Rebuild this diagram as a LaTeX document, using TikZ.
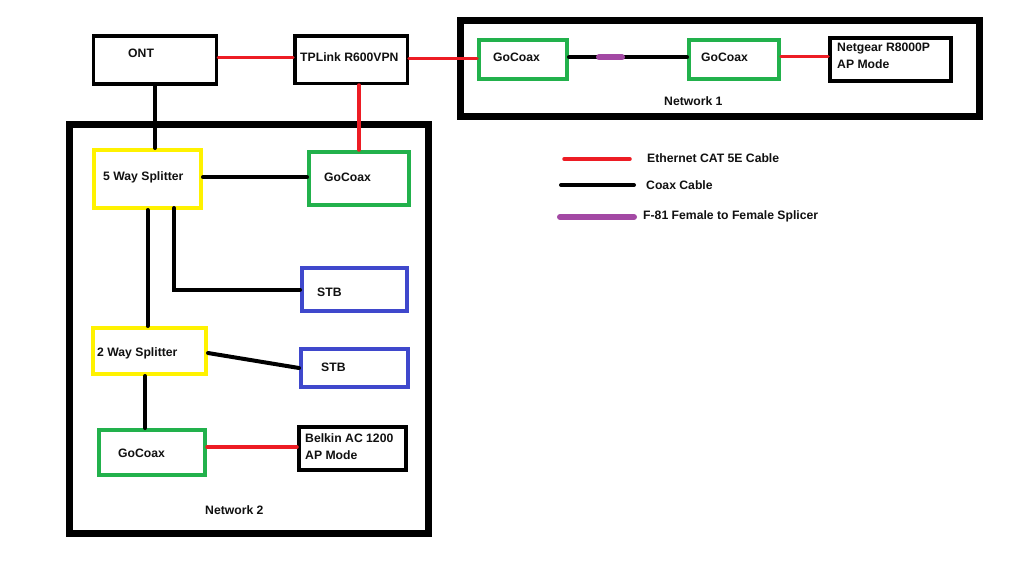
\documentclass[tikz,border=0pt]{standalone}
\usepackage{fontspec}
\setmainfont{Liberation Sans}
\usetikzlibrary{calc}
\definecolor{pred}{HTML}{ED1C24}
\definecolor{pgreen}{HTML}{22B14C}
\definecolor{pyellow}{HTML}{FFF200}
\definecolor{pblue}{HTML}{3F48CC}
\definecolor{ppurple}{HTML}{A349A4}
\definecolor{ptext}{HTML}{111111}
\begin{document}
\begin{tikzpicture}[x=1pt,y=-1pt,
  box/.style={draw,rectangle,inner sep=0pt,line width=#1},
  box/.default=4pt,
  lbl/.style={inner sep=0pt,anchor=base west,text=ptext,font=\bfseries\fontsize{12.2}{17}\selectfont},
  lbl2/.style={inner sep=0pt,anchor=north west,align=left,text=ptext,font=\bfseries\fontsize{12.2}{17}\selectfont},
  eth/.style={draw=pred,line width=3.5pt,line cap=round},
  coax/.style={draw=black,line width=4pt,line cap=round},
  splice/.style={draw=ppurple,line width=6pt,line cap=round}]
\useasboundingbox[fill=white] (0,0) rectangle (1024,576);

% big network frames
\node[box=7pt,minimum width=519pt,minimum height=96pt] (net1) at (720,68.3) {};
\node[box=7pt,minimum width=359pt,minimum height=408.5pt] (net2) at (249,328.75) {};

% devices
\node[box=3.5pt,minimum width=123pt,minimum height=48pt] (ont) at (155,60) {};
\node[box=3.5pt,minimum width=112.5pt,minimum height=47.5pt] (tp) at (351,59.5) {};
\node[box,draw=pgreen,minimum width=88pt,minimum height=38.7pt] (g1) at (523,59.3) {};
\node[box,draw=pgreen,minimum width=90pt,minimum height=39pt] (g2) at (734,59.5) {};
\node[box,minimum width=121pt,minimum height=42.7pt] (ng) at (890.5,59.3) {};
\node[box,draw=pyellow,minimum width=107pt,minimum height=58pt] (s5) at (147.5,179) {};
\node[box,draw=pgreen,minimum width=100pt,minimum height=53pt] (ga) at (359,178.5) {};
\node[box,draw=pblue,minimum width=105pt,minimum height=43pt] (stb1) at (354.5,289.5) {};
\node[box,draw=pyellow,minimum width=113pt,minimum height=46pt] (s2) at (149.5,351) {};
\node[box,draw=pblue,minimum width=107pt,minimum height=38pt] (stb2) at (354.5,368) {};
\node[box,draw=pgreen,minimum width=106pt,minimum height=45pt] (gb) at (152,452.5) {};
\node[box,minimum width=107pt,minimum height=43pt] (bk) at (352.5,448.5) {};

% labels
\node[lbl] (ont-t) at (128,57) {ONT};
\node[lbl] (tp-t) at (300,61.4) {TPLink R600VPN};
\node[lbl] (g1-t) at (493,61.4) {GoCoax};
\node[lbl] (g2-t) at (701,61.4) {GoCoax};
\node[lbl2] (ng-t) at (837,42.7) {Netgear R8000P\\AP Mode};
\node[lbl] (net1-t) at (664,105.1) {Network 1};
\node[lbl] (s5-t) at (103,180.4) {5 Way Splitter};
\node[lbl] (ga-t) at (324,181.4) {GoCoax};
\node[lbl] (stb1-t) at (317,296.4) {STB};
\node[lbl] (s2-t) at (97,356.4) {2 Way Splitter};
\node[lbl] (stb2-t) at (321,371.4) {STB};
\node[lbl] (gb-t) at (118,457.4) {GoCoax};
\node[lbl2] (bk-t) at (305,433.5) {Belkin AC 1200\\AP Mode};
\node[lbl] (net2-t) at (205,514.4) {Network 2};

% connectors
\draw[eth] ($(ont.east)+(0,-2.7)$) -- ($(tp.west)+(0,-2.2)$);
\draw[eth] ($(tp.east)+(0,-1.2)$) -- ($(g1.west)+(0,-1)$);
\draw[eth] (ga.north) -- (ga.north |- tp.south);
\draw[coax] (ont.south) -- (ont.south |- s5.north);
\draw[coax] ($(s5.east)+(0,-1.7)$) -- ($(ga.west)+(0,-1.2)$);
\draw[coax] (s5.south) -- (s5.south |- s2.north);
\coordinate (s5b) at ($(s5.south)+(26.5,-2)$);
\draw[coax] (s5b) |- (stb1.west);
\draw[coax] ($(s2.east)+(0,2)$) -- (stb2.west);
\coordinate (s2b) at ($(s2.south)+(-4.5,0)$);
\draw[coax] (s2b) -- (s2b |- gb.north);
\coordinate (gbr) at ($(gb.east)+(0,-5.5)$);
\draw[eth] (gbr) -- (gbr -| bk.west);
\draw[coax] ($(g1.east)+(0,-2)$) -- ($(g2.west)+(0,-2.2)$);
\coordinate (sp1) at (599,57.3);
\coordinate (sp2) at (622,57.3);
\draw[splice] (sp1) -- (sp2);
\draw[eth] ($(g2.east)+(0,-2.8)$) -- ($(ng.west)+(0,-2.6)$);

% legend
\coordinate (le1a) at (564,159);
\coordinate (le1b) at (630,159);
\coordinate (le2a) at (561,185);
\coordinate (le2b) at (634,185);
\coordinate (le3a) at (560,217);
\coordinate (le3b) at (634,217);
\draw[eth] (le1a) -- (le1b);
\draw[coax] (le2a) -- (le2b);
\draw[splice] (le3a) -- (le3b);
\node[lbl] (leg1) at (647,162.4) {Ethernet CAT 5E Cable};
\node[lbl] (leg2) at (646,189.4) {Coax Cable};
\node[lbl] (leg3) at (643,219.4) {F-81 Female to Female Splicer};
\end{tikzpicture}
\end{document}
